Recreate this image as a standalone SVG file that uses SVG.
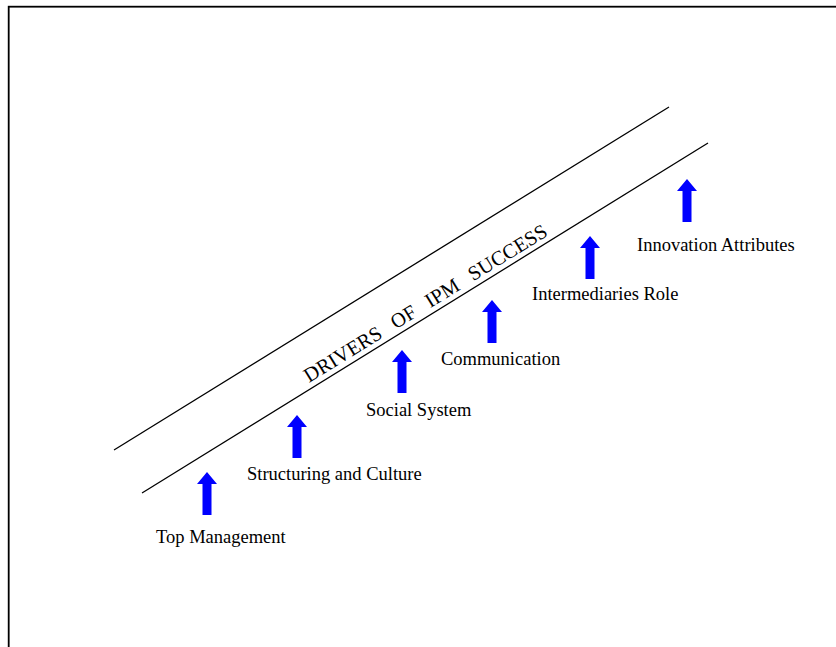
<svg xmlns="http://www.w3.org/2000/svg" width="836" height="647" viewBox="0 0 836 647">
<style>
.lbl{font-family:"Liberation Serif","Times New Roman",serif;font-size:18.5px;fill:#000}
.title{font-family:"Liberation Serif","Times New Roman",serif;font-size:20.5px;fill:#000;white-space:pre;word-spacing:2px}
.band{stroke:#000;stroke-width:1.3;fill:none}
.arr{fill:#0000FF}
</style>
<defs>
<path id="up" d="M0,0 L10,12 L4.5,12 L4.5,43 L-4.5,43 L-4.5,12 L-10,12 Z"/>
</defs>
<rect x="0" y="0" width="836" height="647" fill="#fff"/>
<rect x="8.7" y="6.7" width="840" height="660" fill="none" stroke="#000" stroke-width="1.8"/>
<g id="connectors">
<line class="band" x1="114" y1="450" x2="669" y2="107"/>
<line class="band" x1="142" y1="493" x2="708" y2="143"/>
</g>
<g id="title"><text class="title" transform="translate(429,309) rotate(-31.7)" text-anchor="middle" xml:space="preserve">DRIVERS  OF  IPM  SUCCESS</text></g>
<g id="top-management"><use href="#up" class="arr" x="207" y="472"/><text class="lbl" x="156" y="543">Top Management</text></g>
<g id="structuring"><use href="#up" class="arr" x="297" y="415"/><text class="lbl" x="247" y="480">Structuring and Culture</text></g>
<g id="social-system"><use href="#up" class="arr" x="402" y="350"/><text class="lbl" x="366" y="416">Social System</text></g>
<g id="communication"><use href="#up" class="arr" x="492" y="300"/><text class="lbl" x="441" y="365">Communication</text></g>
<g id="intermediaries"><use href="#up" class="arr" x="590" y="236"/><text class="lbl" x="532" y="300">Intermediaries Role</text></g>
<g id="innovation"><use href="#up" class="arr" x="687" y="179"/><text class="lbl" x="637" y="251">Innovation Attributes</text></g>
</svg>
